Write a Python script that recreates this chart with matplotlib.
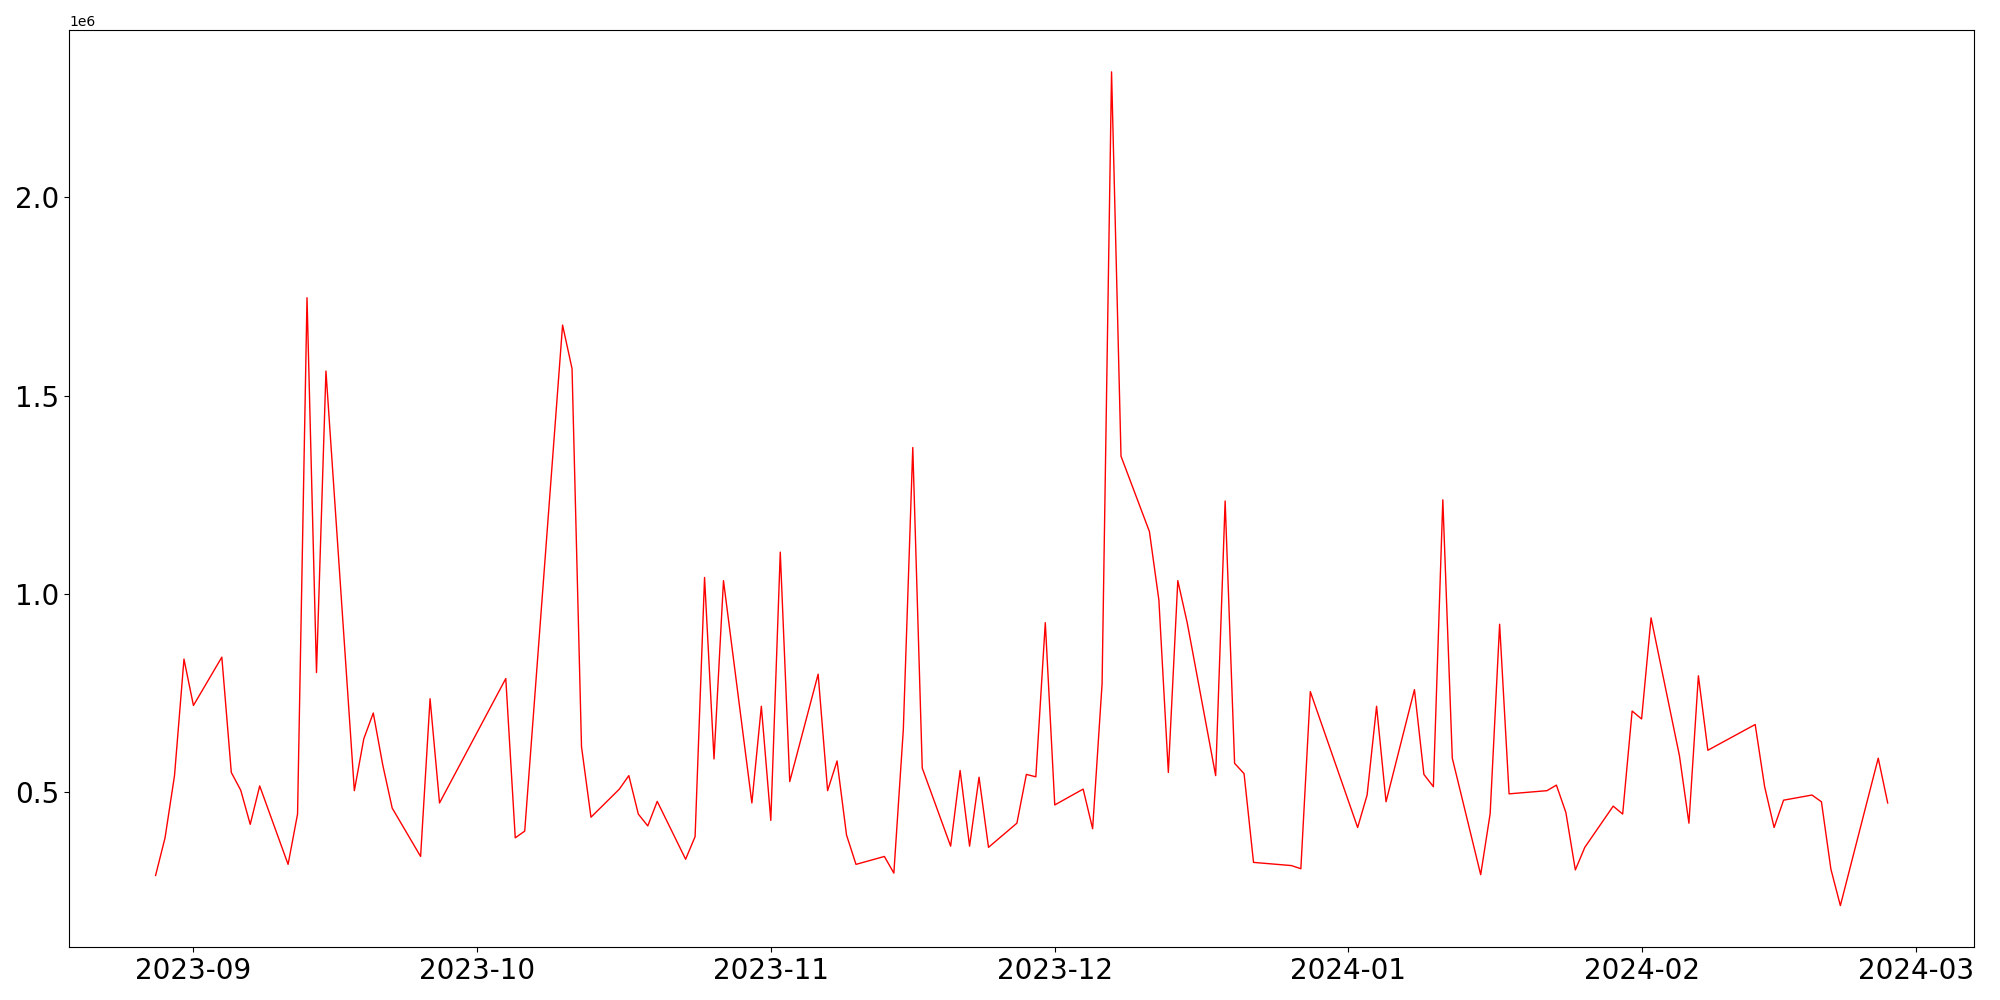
import numpy as np
import pandas as pd
import matplotlib
matplotlib.use("Agg")
import matplotlib.pyplot as plt

# даты (торговые дни) и значения
dates = [
    "2023-08-28", "2023-08-29", "2023-08-30", "2023-08-31", "2023-09-01",
    "2023-09-04", "2023-09-05", "2023-09-06", "2023-09-07", "2023-09-08",
    "2023-09-11", "2023-09-12", "2023-09-13", "2023-09-14", "2023-09-15",
    "2023-09-18", "2023-09-19", "2023-09-20", "2023-09-21", "2023-09-22",
    "2023-09-25", "2023-09-26", "2023-09-27",
    "2023-10-04", "2023-10-05", "2023-10-06",
    "2023-10-10", "2023-10-11", "2023-10-12", "2023-10-13",
    "2023-10-16", "2023-10-17", "2023-10-18", "2023-10-19", "2023-10-20",
    "2023-10-23", "2023-10-24", "2023-10-25", "2023-10-26", "2023-10-27",
    "2023-10-30", "2023-10-31", "2023-11-01", "2023-11-02", "2023-11-03",
    "2023-11-06", "2023-11-07", "2023-11-08", "2023-11-09", "2023-11-10",
    "2023-11-13", "2023-11-14", "2023-11-15", "2023-11-16", "2023-11-17",
    "2023-11-20", "2023-11-21", "2023-11-22", "2023-11-23", "2023-11-24",
    "2023-11-27", "2023-11-28", "2023-11-29", "2023-11-30", "2023-12-01",
    "2023-12-04", "2023-12-05", "2023-12-06", "2023-12-07", "2023-12-08",
    "2023-12-11", "2023-12-12", "2023-12-13", "2023-12-14", "2023-12-15",
    "2023-12-18", "2023-12-19", "2023-12-20", "2023-12-21", "2023-12-22",
    "2023-12-26", "2023-12-27", "2023-12-28",
    "2024-01-02", "2024-01-03", "2024-01-04", "2024-01-05",
    "2024-01-08", "2024-01-09", "2024-01-10", "2024-01-11", "2024-01-12",
    "2024-01-15", "2024-01-16", "2024-01-17", "2024-01-18",
    "2024-01-22", "2024-01-23", "2024-01-24", "2024-01-25", "2024-01-26",
    "2024-01-29", "2024-01-30", "2024-01-31", "2024-02-01", "2024-02-02",
    "2024-02-05", "2024-02-06", "2024-02-07", "2024-02-08",
    "2024-02-13", "2024-02-14", "2024-02-15", "2024-02-16",
    "2024-02-19", "2024-02-20", "2024-02-21", "2024-02-22",
    "2024-02-26", "2024-02-27",
]

values = [
    289000, 384000, 541000, 835000, 718000,
    840000, 549000, 504000, 418000, 515000,
    317000, 444000, 1747000, 801000, 1562000,
    503000, 634000, 699000, 568000, 459000,
    337000, 735000, 472000,
    786000, 384000, 401000,
    1678000, 1568000, 614000, 436000,
    507000, 541000, 444000, 414000, 476000,
    330000, 387000, 1041000, 583000, 1033000,
    472000, 716000, 428000, 1105000, 526000,
    797000, 503000, 578000, 391000, 317000,
    337000, 295000, 657000, 1369000, 560000,
    363000, 554000, 363000, 537000, 360000,
    421000, 544000, 538000, 927000, 467000,
    507000, 407000, 773000, 2317000, 1347000,
    1157000, 984000, 549000, 1033000, 926000,
    541000, 1234000, 572000, 546000, 322000,
    314000, 306000, 753000,
    410000, 492000, 716000, 475000,
    758000, 544000, 513000, 1237000, 585000,
    291000, 445000, 923000, 495000,
    503000, 517000, 448000, 303000, 360000,
    464000, 444000, 704000, 684000, 939000,
    591000, 421000, 793000, 605000,
    670000, 513000, 410000, 479000,
    492000, 475000, 305000, 213000,
    585000, 472000,
]

x = pd.to_datetime(dates)
y = np.array(values)

fig, ax = plt.subplots(figsize=(20, 10), dpi=100)
ax.plot(x, y, color='red', linewidth=1)
plt.xticks(fontsize=20)
plt.yticks(fontsize=20)
plt.tight_layout()
plt.savefig("out.png")
